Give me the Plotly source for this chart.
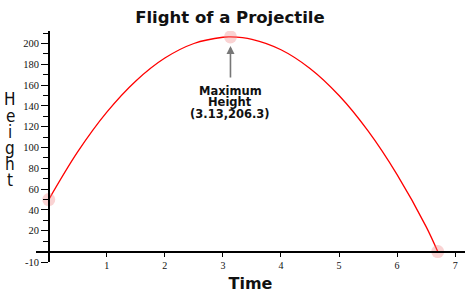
import plotly.graph_objects as go

# Data
time = [0, 0.5, 1, 1.5, 2, 2.5, 3, 3.13, 3.5, 4, 4.5, 5, 5.5, 6, 6.5, 6.7]
height = [50, 96, 134, 164, 186, 200, 206, 206.3, 204, 194, 176, 150, 116, 74, 24, 0]

key_t = [0, 3.13, 6.7]
key_h = [50, 206.3, 0]

x_ticks = [1, 2, 3, 4, 5, 6, 7]
y_ticks = [-10, 20, 40, 60, 80, 100, 120, 140, 160, 180, 200]

peak_lines = ["Maximum", "Height", "(3.13,206.3)"]
y_title_letters = list("Height")

x_range = [-0.22, 7.17]
y_range = [-10, 212]

fig = go.Figure()
fig.add_trace(go.Scatter(x=time, y=height, mode="lines",
                         line=dict(color="#ff0000", width=1.3, shape="spline"),
                         hoverinfo="skip", showlegend=False))
fig.add_trace(go.Scatter(x=key_t, y=key_h, mode="markers",
                         marker=dict(size=13, color="rgba(240,130,130,0.35)", line=dict(width=0)),
                         showlegend=False))

# arrow to the peak
fig.add_annotation(x=key_t[1], y=key_h[1], text="", showarrow=True, ax=0, ay=42,
                   arrowhead=2, arrowsize=1, arrowwidth=1.6, arrowcolor="#777777", standoff=9)
# peak label lines
for i, line in enumerate(peak_lines):
    fig.add_annotation(x=key_t[1], y=key_h[1], text=line, showarrow=False, borderpad=0,
                       xanchor="center", yanchor="middle", yshift=-54 - 11.5 * i,
                       font=dict(family="DejaVu Sans", size=11.5, color="#111111", weight="bold"))

# stacked vertical "Height" label
for i, ch in enumerate(y_title_letters):
    py = 100 + 16.3 * i
    fig.add_annotation(xref="paper", yref="paper", x=-0.06, y=(264 - py) / 233, borderpad=0,
                       xanchor="center", yanchor="middle", text=ch, showarrow=False,
                       font=dict(family="DejaVu Sans Condensed, DejaVu Sans", size=17, color="#111111"))

ypos = (0 - x_range[0]) / (x_range[1] - x_range[0])
xpos = (0 - y_range[0]) / (y_range[1] - y_range[0])

serif = "Liberation Serif, Times New Roman, serif"

fig.update_layout(
    width=475, height=299,
    margin=dict(l=36, r=10, t=31, b=35),
    paper_bgcolor="white", plot_bgcolor="white",
    title=dict(text="Flight of a Projectile", x=0.484, xanchor="center", y=0.943, yanchor="middle",
               font=dict(family="DejaVu Sans", size=16.5, color="#111111", weight="bold")),
    xaxis=dict(range=x_range, showgrid=False, zeroline=False,
               showline=True, linecolor="#000000", linewidth=1.5,
               anchor="free", position=xpos,
               tickvals=x_ticks, ticktext=[str(v) for v in x_ticks],
               ticks="outside", ticklen=5, tickcolor="#000000", tickwidth=1,
               tickfont=dict(family=serif, size=10, color="#111111"),
               title=dict(text="Time", standoff=6,
                          font=dict(family="DejaVu Sans", size=16, color="#111111", weight="bold"))),
    yaxis=dict(range=y_range, showgrid=False, zeroline=False,
               showline=True, linecolor="#000000", linewidth=1.5,
               anchor="free", position=ypos,
               tickvals=y_ticks, ticktext=[str(v) for v in y_ticks],
               ticks="outside", ticklen=7, tickcolor="#000000", tickwidth=1.2,
               minor=dict(tickvals=[10, 30, 50, 70, 90, 110, 130, 150, 170, 190, 210],
                          ticks="outside", ticklen=5, tickcolor="#000000", tickwidth=1.2),
               tickfont=dict(family=serif, size=10.5, color="#111111")),
)

fig.write_html("out.html")
